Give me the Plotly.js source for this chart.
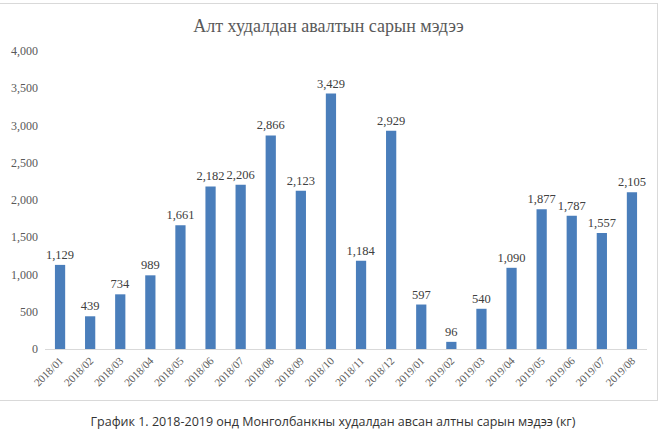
<!DOCTYPE html>
<html>
<head>
<meta charset="utf-8">
<script src="https://cdn.plot.ly/plotly-3.0.1.min.js"></script>
<style>
  body { margin: 0; background: #fff; width: 669px; height: 439px; position: relative; overflow: hidden; }
  #chart { position: absolute; left: 0; top: 3px; width: 657px; height: 396px; border: 1px solid #d9d9d9; border-left: none; }
  #caption { position: absolute; left: 0; width: 666px; top: 413px; text-align: center;
             font-family: 'Open Sans', 'Noto Sans', sans-serif; font-size: 12.5px; color: #333; }
</style>
</head>
<body>
<div id="chart"></div>
<div id="caption">График 1. 2018-2019 онд Монголбанкны худалдан авсан алтны сарын мэдээ (кг)</div>
<script>
// Сар бүрийн алт худалдан авалт (кг)
const months = [
  '2018/01', '2018/02', '2018/03', '2018/04', '2018/05', '2018/06', '2018/07',
  '2018/08', '2018/09', '2018/10', '2018/11', '2018/12', '2019/01', '2019/02',
  '2019/03', '2019/04', '2019/05', '2019/06', '2019/07', '2019/08'
];
const goldKg = [
  1129, 439, 734, 989, 1661, 2182, 2206, 2866, 2123, 3429,
  1184, 2929, 597, 96, 540, 1090, 1877, 1787, 1557, 2105
];
const yTicks = [0, 500, 1000, 1500, 2000, 2500, 3000, 3500, 4000];

const serif = 'Liberation Serif, Times New Roman, serif';

const trace = {
  type: 'bar',
  x: months,
  y: goldKg,
  marker: { color: '#4a7ebb' },
  texttemplate: '%{y:,}',
  textposition: 'outside',
  constraintext: 'none',
  cliponaxis: false,
  textfont: { family: serif, size: 12.5, color: '#404040' },
  hoverinfo: 'x+y'
};

const layout = {
  width: 657,
  height: 396,
  margin: { t: 47, l: 45, r: 10, b: 51 },
  paper_bgcolor: '#fff',
  plot_bgcolor: '#fff',
  bargap: 0.66,
  showlegend: false,
  title: {
    text: 'Алт худалдан авалтын сарын мэдээ',
    font: { family: serif, size: 18, color: '#595959' },
    x: 0.5,
    xanchor: 'center',
    y: 0.945,
    yanchor: 'middle'
  },
  xaxis: {
    type: 'category',
    tickangle: -45,
    tickfont: { family: serif, size: 11, color: '#595959' },
    showline: true,
    linecolor: '#d9d9d9',
    linewidth: 1,
    ticks: '',
    showgrid: false,
    zeroline: false
  },
  yaxis: {
    range: [0, 4000],
    tickvals: yTicks,
    tickformat: ',',
    tickfont: { family: serif, size: 12, color: '#595959' },
    showgrid: false,
    zeroline: false,
    showline: false,
    ticks: '',
    ticklabelstandoff: 6
  }
};

Plotly.newPlot('chart', [trace], layout, { displayModeBar: false, staticPlot: true });
</script>
</body>
</html>
